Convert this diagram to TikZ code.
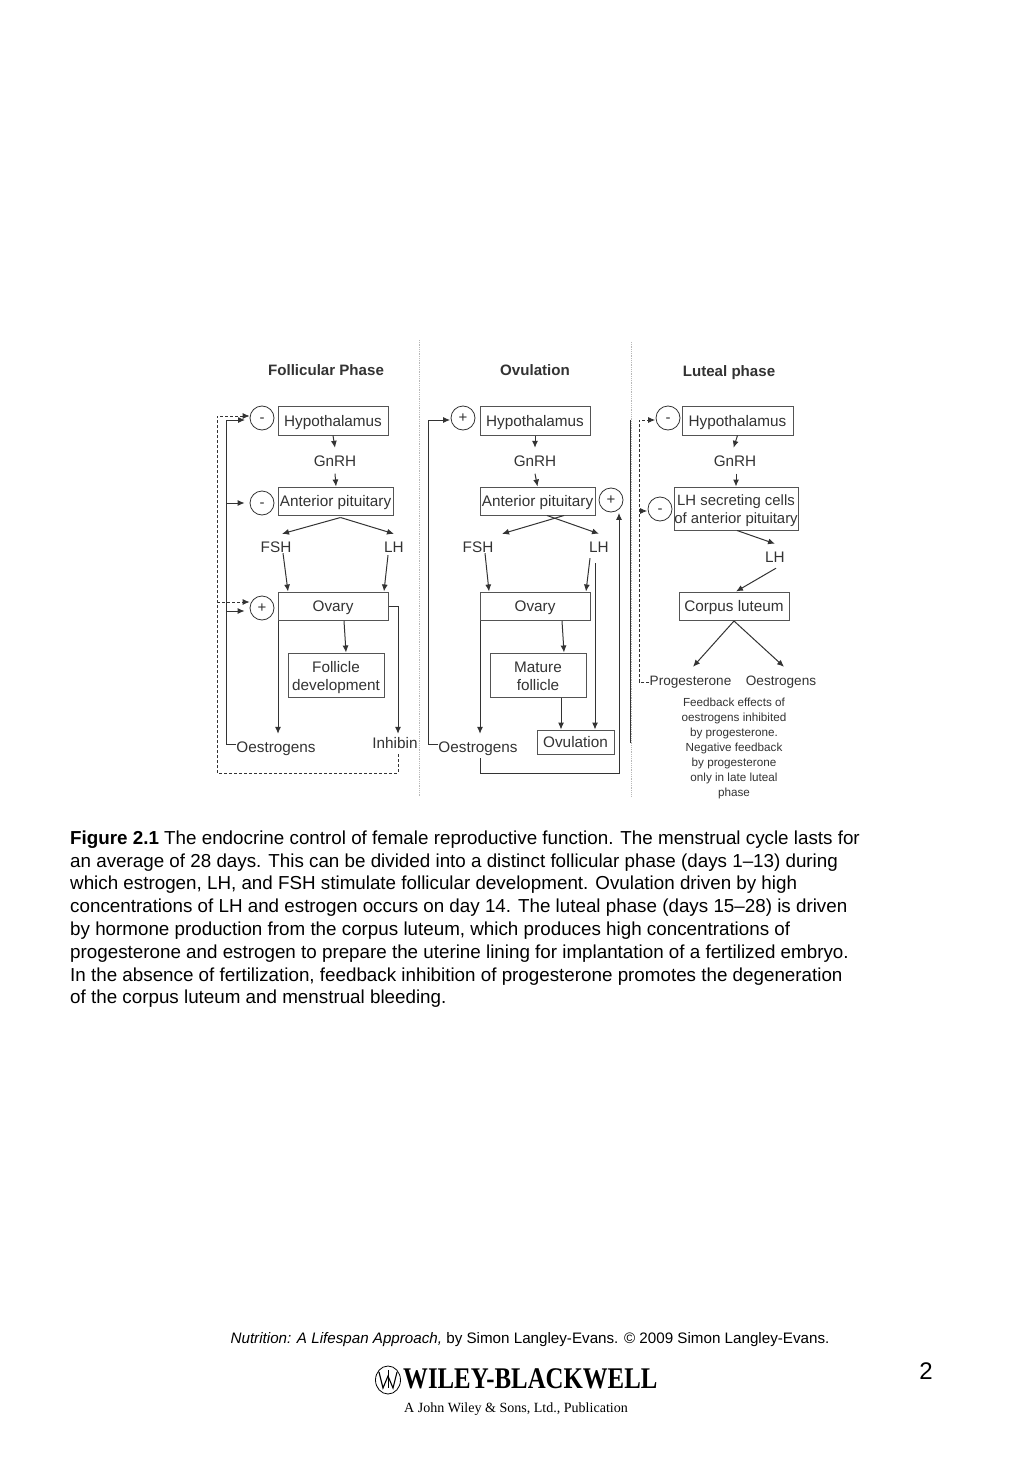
\documentclass[tikz,border=0pt]{standalone}
\usepackage{fontspec}
\setmainfont{Liberation Sans}
\newfontfamily\serifface{Liberation Serif}
\usetikzlibrary{arrows.meta,shapes.geometric}
\definecolor{ink}{gray}{0.2}
\definecolor{boxline}{gray}{0.33}
\definecolor{sep}{gray}{0.72}
\tikzset{
  x=1pt,y=-1pt,
  every node/.style={inner sep=0pt,text=ink},
  lbl/.style={font=\fontsize{15.3}{17}\selectfont,text height=11pt,text depth=0pt,anchor=center},
  smlbl/.style={lbl,font=\fontsize{13.6}{17}\selectfont},
  ttl/.style={font=\bfseries\fontsize{15.1}{17}\selectfont,text height=11pt,text depth=0pt},
  hbox/.style={draw=boxline,line width=1pt,font=\fontsize{15.3}{18}\selectfont},
  sbox/.style={hbox,text height=11pt,text depth=0pt},
  mbox/.style={hbox,align=center},
  sign/.style={circle,draw=ink,line width=.8pt,minimum size=24pt,font=\fontsize{15}{16}\selectfont,text height=9pt,text depth=0pt},
  arr/.style={draw=ink,line width=1pt,-{Latex[length=7pt,width=6pt]}},
  lin/.style={draw=ink,line width=1pt},
  darr/.style={arr,densely dashed,line width=.8pt},
  dlin/.style={lin,densely dashed,line width=.8pt},
  slin/.style={draw=ink,line width=1pt},
  sarr/.style={slin,-{Latex[length=7pt,width=6pt]}},
  sepl/.style={draw=sep,line width=.8pt,densely dotted},
}
\begin{document}
\begin{tikzpicture}
\useasboundingbox (0,0) rectangle (1024,1479);
\fill[white] (0,0) rectangle (1024,1479);

% separators
\coordinate (s1t) at (419,340); \coordinate (s1b) at (419,797);
\coordinate (s2t) at (631,342); \coordinate (s2b) at (631,797);
\draw[sepl] (s1t) -- (s1b);
\draw[sepl] (s2t) -- (s2b);

% titles
\node[ttl] (t1) at (326,370) {Follicular Phase};
\node[ttl] (t2) at (535,370) {Ovulation};
\node[ttl] (t3) at (729,371) {Luteal phase};

% ---------- Follicular
\node[sbox,minimum width=110pt,minimum height=29pt] (h1) at (333,420.5) {Hypothalamus};
\node[lbl] (g1) at (335,461) {GnRH};
\node[sbox,minimum width=115pt,minimum height=28pt] (a1) at (335.5,501) {Anterior pituitary};
\node[sign] (c1a) at (262,418) {-};
\node[sign] (c1b) at (262,503) {-};
\node[sign] (c1c) at (262,608) {+};
\node[lbl] (f1) at (276,547) {FSH};
\node[lbl] (l1) at (394,547) {LH};
\node[sbox,minimum width=110pt,minimum height=28.5pt] (o1) at (333,606.25) {Ovary};
\node[mbox,minimum width=96pt,minimum height=44pt] (d1) at (336,675) {\rule{0pt}{16pt}Follicle\\development};
\node[lbl] (e1) at (276,747) {Oestrogens};
\node[lbl] (i1) at (395,743) {Inhibin};

\draw[arr] (h1.south) -- ([yshift=7.5pt]g1.north);
\draw[arr] ([yshift=-7pt]g1.south) -- ([xshift=.5pt]a1.north);
\draw[arr] ([xshift=5pt,yshift=-2pt]a1.south) -- ([xshift=6pt,yshift=7.5pt]f1.north);
\draw[arr] ([xshift=5pt,yshift=-2pt]a1.south) -- ([yshift=7.5pt]l1.north);
\draw[arr] ([xshift=7pt,yshift=-.5pt]f1.south) -- ([xshift=-45pt]o1.north);
\draw[arr] ([xshift=-6pt,yshift=-2.5pt]l1.south) -- ([xshift=51pt]o1.north);
\draw[arr] ([xshift=11pt]o1.south) -- ([xshift=10pt]d1.north);
\draw[arr] ([xshift=.5pt]o1.south west) -- ([xshift=2pt,yshift=7.5pt]e1.north);
\draw[arr] (o1.east) -| ([xshift=3pt,yshift=3.5pt]i1.north);
\coordinate (v1t) at (226,420);
\coordinate (v1b) at (226,744.5);
\draw[lin] ([yshift=2.5pt]e1.west) -- (v1b);
\draw[arr] (v1b) -- (v1t) -- (245,420);
\draw[arr] (v1b |- c1b.west) -- ([xshift=-5pt]c1b.west);
\draw[arr] (226,611) -- ([xshift=-5pt,yshift=-3pt]c1c.west);
\coordinate (w1) at (217,773);
\draw[dlin] ([xshift=3pt,yshift=-5.5pt]i1.south) |- (w1);
\draw[darr] (w1) |- ([yshift=2pt]c1a.west);
\draw[darr] (217,602) -- ([yshift=6pt]c1c.west);

% ---------- Ovulation
\node[sbox,minimum width=110pt,minimum height=29pt] (h2) at (535,420.5) {Hypothalamus};
\node[lbl] (g2) at (535,461) {GnRH};
\node[sbox,minimum width=115pt,minimum height=28pt] (a2) at (537.5,501) {Anterior pituitary};
\node[sign] (c2a) at (463,418) {+};
\node[sign] (c2b) at (611,500) {+};
\node[lbl] (f2) at (478,547) {FSH};
\node[lbl] (l2) at (599,547) {LH};
\node[sbox,minimum width=110pt,minimum height=28.5pt] (o2) at (535,606.25) {Ovary};
\node[mbox,minimum width=96pt,minimum height=44pt] (d2) at (538,675) {\rule{0pt}{16pt}Mature\\\rule[-3.5pt]{0pt}{3.5pt}follicle};
\node[sbox,minimum width=77pt,minimum height=24pt] (u2) at (575.5,742) {Ovulation};
\node[lbl] (e2) at (478,747) {Oestrogens};

\draw[arr] (h2.south) -- ([yshift=7.5pt]g2.north);
\draw[arr] ([yshift=-7pt]g2.south) -- (a2.north);
\draw[arr] ([xshift=26.5pt]a2.south) -- ([xshift=24pt,yshift=7.5pt]f2.north);
\draw[arr] ([xshift=9.5pt]a2.south) -- ([yshift=7.5pt]l2.north);
\draw[arr] ([xshift=7pt,yshift=-.5pt]f2.south) -- ([xshift=-46pt]o2.north);
\draw[arr] ([xshift=-9pt,yshift=-5.5pt]l2.south) -- ([xshift=51pt]o2.north);
\draw[arr] ([xshift=27pt]o2.south) -- ([xshift=26pt]d2.north);
\draw[arr] ([xshift=23pt]d2.south) -- ([xshift=-14.5pt]u2.north);
\draw[arr] ([xshift=-4pt,yshift=-10.5pt]l2.south) -- ([xshift=19.5pt]u2.north);
\draw[arr] ([xshift=.5pt]o2.south west) -- ([xshift=2pt,yshift=7.5pt]e2.north);
\draw[sarr] ([xshift=2pt,yshift=-5.5pt]e2.south) |- (619,773) -- ([xshift=8pt,yshift=-.5pt]c2b.south);
\coordinate (v2t) at (428,420);
\coordinate (v2b) at (428,744.5);
\draw[slin] ([yshift=2.5pt]e2.west) -- (v2b) -- (v2t);
\draw[sarr] (v2t) -- ([xshift=-.5pt,yshift=-2pt]c2a.west);
\coordinate (v2r) at (630.5,420);
\coordinate (v2s) at (630.5,743);
\draw[slin] (v2r) -- (v2s);

% ---------- Luteal
\node[sbox,minimum width=111pt,minimum height=29pt] (h3) at (737.5,420.5) {Hypothalamus};
\node[lbl] (g3) at (735,461) {GnRH};
\node[mbox,font=\fontsize{14.9}{18}\selectfont,minimum width=124pt,minimum height=43pt] (a3) at (736,508.5) {\rule{0pt}{16pt}LH secreting cells\\of anterior pituitary};
\node[sign] (c3a) at (668,418) {-};
\node[sign] (c3b) at (660,509) {-};
\node[lbl] (l3) at (775,557) {LH};
\node[sbox,minimum width=110pt,minimum height=28.5pt] (o3) at (734,606.25) {Corpus luteum};
\node[smlbl] (p3) at (690.5,680) {Progesterone};
\node[smlbl] (e3) at (781,680) {Oestrogens};
\node[font=\fontsize{11.7}{15}\selectfont,align=center,anchor=north] (n3) at (734,698) {Feedback effects of\\oestrogens inhibited\\by progesterone.\\Negative feedback\\by progesterone\\only in late luteal\\phase};

\draw[arr] (h3.south) -- ([xshift=-1.5pt,yshift=7.5pt]g3.north);
\draw[arr] ([xshift=1pt,yshift=-7pt]g3.south) -- (a3.north);
\draw[arr] ([xshift=1pt]a3.south) -- ([yshift=7.5pt]l3.north);
\draw[arr] ([xshift=1pt,yshift=-5.5pt]l3.south) -- ([xshift=2pt]o3.north);
\draw[arr] (o3.south) -- ([xshift=2.5pt,yshift=7.5pt]p3.north);
\draw[arr] (o3.south) -- ([xshift=3pt,yshift=7.5pt]e3.north);
\coordinate (w3) at (639,682);
\draw[dlin] ([yshift=-2pt]p3.west) -- (w3);
\draw[darr] (w3) |- ([xshift=-.5pt,yshift=-2pt]c3a.west);
\draw[darr] (639,511) -- ([xshift=-.5pt,yshift=-2pt]c3b.west);

% ---------- Caption
\node[anchor=north west,align=left,text=black,font=\fontsize{18.8}{22.8}\selectfont] (cap) at (70,830.5)
{\textbf{Figure 2.1} The endocrine control of female reproductive function. The menstrual cycle lasts for\\
an average of 28 days. This can be divided into a distinct follicular phase (days 1–13) during\\
which estrogen, LH, and FSH stimulate follicular development. Ovulation driven by high\\
concentrations of LH and estrogen occurs on day 14. The luteal phase (days 15–28) is driven\\
by hormone production from the corpus luteum, which produces high concentrations of\\
progesterone and estrogen to prepare the uterine lining for implantation of a fertilized embryo.\\
In the absence of fertilization, feedback inhibition of progesterone promotes the degeneration\\
of the corpus luteum and menstrual bleeding.};

% ---------- Footer
\node[text=black,font=\fontsize{15.18}{17}\selectfont] (src) at (530,1339.5) {\textit{Nutrition: A Lifespan Approach,} by Simon Langley-Evans. © 2009 Simon Langley-Evans.};
\node[text=black,font=\fontsize{24}{28}\selectfont] (pg) at (926,1371.5) {2};
\node[text=black,anchor=west,font=\serifface\bfseries\fontsize{30}{32}\selectfont] (wb) at (403,1379) {\scalebox{.827}[1]{WILEY-BLACKWELL}};
\node[draw=black,line width=.8pt,ellipse,minimum width=25pt,minimum height=28pt] (logo) at (388,1380) {};
\draw[black,line width=1.1pt] (379,1372) -- (383,1388) -- (388,1376) -- (393,1388) -- (397,1372);
\draw[black,line width=.8pt] (388,1370) -- (388,1388);
\node[text=black,font=\serifface\fontsize{14.04}{16}\selectfont] (pub) at (516,1409.5) {A John Wiley \& Sons, Ltd., Publication};
\end{tikzpicture}
\end{document}
